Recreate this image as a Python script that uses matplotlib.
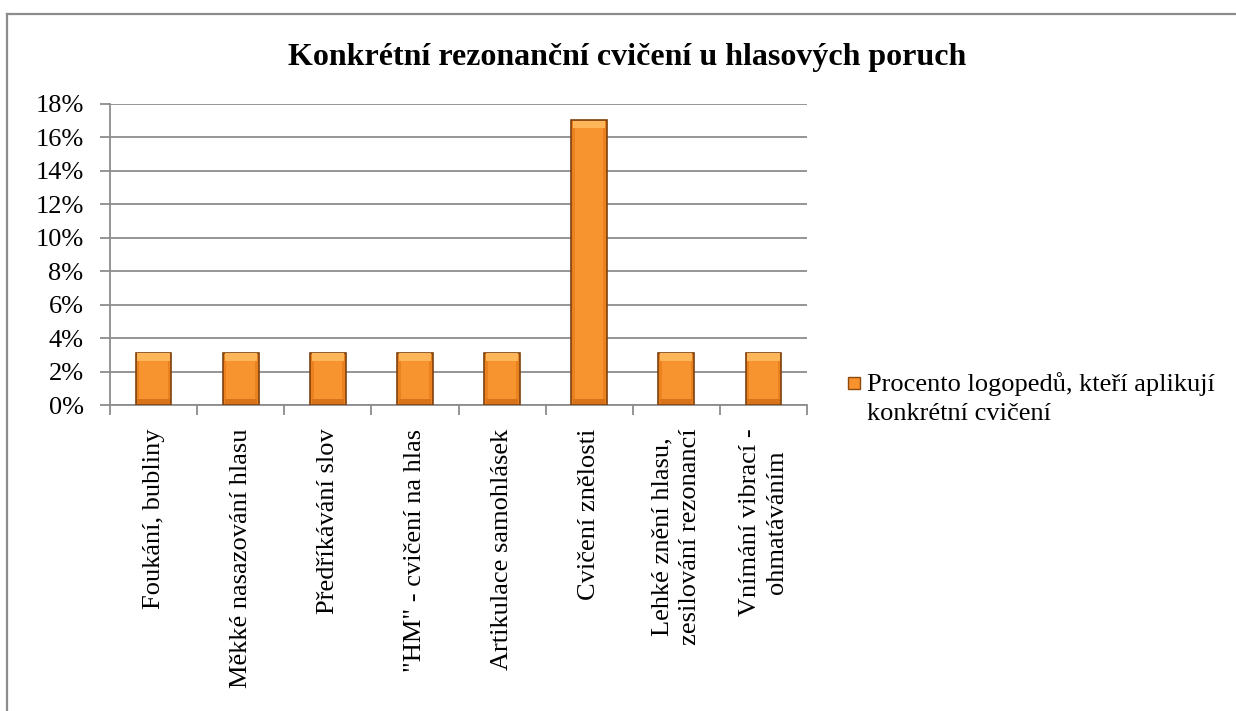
import numpy as np
import matplotlib.pyplot as plt
from matplotlib.patches import Rectangle
from matplotlib.lines import Line2D
from matplotlib.ticker import FixedLocator, PercentFormatter

plt.rcParams['font.family'] = ['Liberation Serif', 'DejaVu Serif']

# Data
categories = [
    "Foukání, bubliny",
    "Měkké nasazování hlasu",
    "Předříkávání slov",
    "\"HM\" - cvičení na hlas",
    "Artikulace samohlásek",
    "Cvičení znělosti",
    "Lehké znění hlasu,\nzesilování rezonancí",
    "Vnímání vibrací -\nohmatáváním",
]
values = [3.13, 3.13, 3.13, 3.13, 3.13, 17.05, 3.13, 3.13]
series_name = "Procento logopedů, kteří aplikují\nkonkrétní cvičení"
title = "Konkrétní rezonanční cvičení u hlasových poruch"

W, H = 1236, 711
fs = 19
fig = plt.figure(figsize=(W / 100, H / 100), dpi=100)

# chart frame (runs off the right and bottom edges)
fig.add_artist(Line2D([7 / W, 7 / W], [0, 1 - 14 / H], transform=fig.transFigure,
                      color="#8c8c8c", lw=1.6))
fig.add_artist(Line2D([7 / W, 1], [1 - 14 / H, 1 - 14 / H], transform=fig.transFigure,
                      color="#8c8c8c", lw=1.6))

ax = fig.add_axes([110 / W, 1 - 405 / H, (807 - 110) / W, (405 - 104) / H])

x = np.arange(len(categories))
bars = ax.bar(x, values, width=0.41, color="#E9821F", edgecolor="#7E410E",
              linewidth=1.2, zorder=3)
# bevel shading: lighter centre, light top, darker base
for b in bars:
    cx = b.get_x() + b.get_width() / 2
    ax.bar(cx, b.get_height() - 0.7, bottom=0.3,
           width=b.get_width() * 0.8, color="#F7942F", linewidth=0, zorder=4)
    ax.bar(cx, 0.45, bottom=b.get_height() - 0.5,
           width=b.get_width() * 0.9, color="#FDB65A", linewidth=0, zorder=4)
    ax.bar(cx, 0.3, bottom=0.05,
           width=b.get_width() * 0.9, color="#D9731A", linewidth=0, zorder=4)

ax.set_xlim(-0.5, len(categories) - 0.5)
ax.set_ylim(0, 18)
ax.yaxis.set_major_locator(FixedLocator(np.arange(0, 19, 2)))
ax.yaxis.set_major_formatter(PercentFormatter(decimals=0))
ax.grid(axis="y", color="#8c8c8c", lw=1.3, zorder=0)

ax.set_xticks(x)
ax.set_xticklabels(categories, rotation=90, va="top", ha="center",
                   fontsize=fs, linespacing=1.3)
ax.set_xticks(np.arange(-0.5, len(categories)), minor=True)
ax.tick_params(axis="x", which="major", length=0, pad=17)
ax.tick_params(axis="x", which="minor", length=7, width=1.3, color="#8c8c8c")
ax.tick_params(axis="y", length=7, width=1.3, color="#8c8c8c", labelsize=fs, pad=12)

for s in ["top", "right"]:
    ax.spines[s].set_visible(False)
for s in ["left", "bottom"]:
    ax.spines[s].set_color("#8c8c8c")
    ax.spines[s].set_linewidth(1.3)

fig.text(627 / W, 1 - 57 / H, title, ha="center", va="center",
         fontsize=23, fontweight="bold")

# legend entry: square key aligned with the first text line
fig.add_artist(Rectangle((848 / W, 1 - 389 / H), 12 / W, 12 / H,
                         transform=fig.transFigure, facecolor="#F7922E",
                         edgecolor="#8E4A10", lw=1))
fig.text(867 / W, 1 - 372 / H, series_name, ha="left", va="top",
         fontsize=fs, linespacing=1.4)

fig.savefig("out.png", dpi=100)
